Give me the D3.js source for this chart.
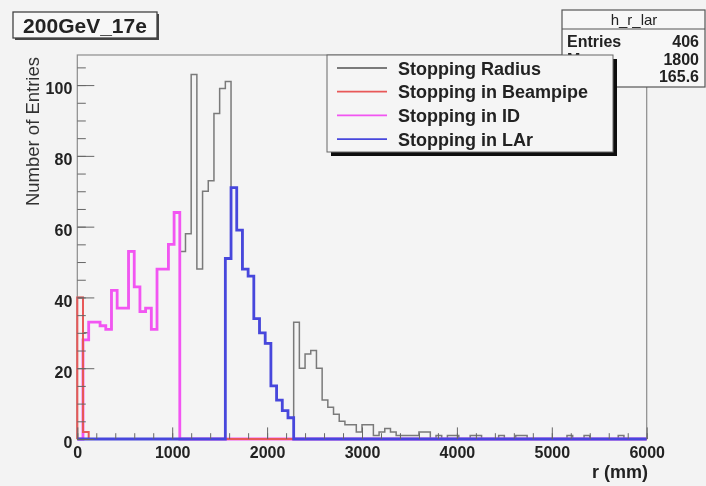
<!DOCTYPE html>
<html>
<head>
<meta charset="utf-8">
<script src="https://cdn.jsdelivr.net/npm/d3@7"></script>
<style>
  body { margin: 0; background: #f3f3f3; }
  svg { display: block; font-family: "Liberation Sans", Arial, sans-serif; }
</style>
</head>
<body>
<script>
// histogram binning (mm)
var xMin = 0, xMax = 6000, binWidth = 60;

// Stopping Radius - all bins
var radiusCounts = [
  40, 30, 33, 33, 32, 31, 42, 37, 37, 53,
  43, 36, 37, 31, 48, 48, 55, 64, 53, 58,
  103, 48, 70, 73, 92, 99, 101, 71, 59, 48,
  46, 34, 30, 27, 15, 11, 8, 6, 33, 20,
  24, 25, 20, 11, 9, 7, 5, 4, 4, 2,
  4, 4, 1, 2, 3, 2, 1, 1, 1, 1,
  2, 2, 0, 1, 0, 1, 1, 0, 0, 1,
  1, 0, 0, 0, 1, 0, 0, 1, 1, 0,
  0, 0, 0, 0, 0, 0, 1, 0, 0, 1,
  0, 0, 0, 0, 0, 1, 0, 0, 0, 0
];
// Stopping in Beampipe (starting at bin 0)
var beampipeStart = 0;
var beampipeCounts = [40, 2];
// Stopping in ID (starting at bin 0)
var idStart = 0;
var idCounts = [0, 28, 33, 33, 32, 31, 42, 37, 37, 53, 43, 36, 37, 31, 48, 48, 55, 64];
// Stopping in LAr (starting at bin 26)
var larStart = 26;
var larCounts = [51, 71, 59, 48, 46, 34, 30, 27, 15, 11, 8, 6];

var legendLabels = ["Stopping Radius", "Stopping in Beampipe", "Stopping in ID", "Stopping in LAr"];
var xTicks = [0, 1000, 2000, 3000, 4000, 5000, 6000];
var yTicks = [0, 20, 40, 60, 80, 100];
var stats = [["Entries", "406"], ["Mean", "1800"], ["RMS", "165.6"]];

var nBins = (xMax - xMin) / binWidth;
function fullBins(start, vals) {
  var arr = [];
  for (var i = 0; i < nBins; i++) arr.push(0);
  vals.forEach(function(v, i) { arr[start + i] = v; });
  return arr;
}

var svgWidth = 706, svgHeight = 486;
var svg = d3.select("body").append("svg")
  .attr("width", svgWidth)
  .attr("height", svgHeight);

// the reference is a soft, upscaled picture
svg.append("defs").append("filter").attr("id", "soft")
  .append("feGaussianBlur").attr("stdDeviation", 0.45);
var root = svg.append("g").attr("filter", "url(#soft)");

var x = d3.scaleLinear().domain([xMin, xMax]).range([77.3, 646.7]);
var y = d3.scaleLinear().domain([0, 108.5]).range([439, 55]);

// frame
root.append("rect")
  .attr("x", x(xMin)).attr("y", y(108.5))
  .attr("width", x(xMax) - x(xMin)).attr("height", y(0) - y(108.5))
  .attr("fill", "#f4f4f4")
  .attr("stroke", "#8c8c8c")
  .attr("stroke-width", 1.2);

// step outline like ROOT's HIST option
function stepPoints(counts) {
  var pts = [[xMin, 0]];
  counts.forEach(function(v, i) { pts.push([xMin + i * binWidth, v]); });
  pts.push([xMax, 0]);
  return pts;
}
var line = d3.line()
  .x(function(d) { return x(d[0]); })
  .y(function(d) { return y(d[1]); })
  .curve(d3.curveStepAfter);

var series = [
  { counts: radiusCounts, color: "#7a7a7a", width: 1.5 },
  { counts: fullBins(idStart, idCounts), color: "#f255f2", width: 2.8 },
  { counts: fullBins(beampipeStart, beampipeCounts), color: "#e85858", width: 2 },
  { counts: fullBins(larStart, larCounts), color: "#4646dc", width: 2.8 }
];
series.forEach(function(s) {
  root.append("path")
    .attr("d", line(stepPoints(s.counts)))
    .attr("fill", "none")
    .attr("stroke", s.color)
    .attr("stroke-width", s.width)
    .attr("stroke-linejoin", "miter");
});

// axes (ticks inward)
var xMinor = d3.range(0, 6001, 200);
var yMinor = d3.range(0, 108, 5);

root.append("g")
  .attr("transform", "translate(0," + y(0) + ")")
  .call(d3.axisBottom(x).tickValues(xMinor).tickSize(-5.8).tickFormat(""))
  .call(function(g) { g.select(".domain").remove(); });
var xAxis = root.append("g")
  .attr("transform", "translate(0," + y(0) + ")")
  .call(d3.axisBottom(x).tickValues(xTicks).tickSize(-11.6).tickPadding(8).tickSizeOuter(0).tickFormat(d3.format("d")));

root.append("g")
  .attr("transform", "translate(" + x(0) + ",0)")
  .call(d3.axisLeft(y).tickValues(yMinor).tickSize(-8.5).tickFormat(""))
  .call(function(g) { g.select(".domain").remove(); });
var yAxis = root.append("g")
  .attr("transform", "translate(" + x(0) + ",0)")
  .call(d3.axisLeft(y).tickValues(yTicks).tickSize(-17).tickPadding(5).tickSizeOuter(0));

root.selectAll(".tick line").attr("stroke", "#666");
xAxis.selectAll("text").style("font-size", "16px").style("font-weight", "bold").attr("fill", "#222");
yAxis.selectAll("text").style("font-size", "16px").style("font-weight", "bold").attr("fill", "#222").attr("dy", "0.55em");
xAxis.select(".domain").remove();
yAxis.select(".domain").remove();

// axis titles
root.append("text")
  .attr("transform", "rotate(-90)")
  .attr("x", -57).attr("y", 39)
  .attr("text-anchor", "end")
  .style("font-size", "18.5px")
  .attr("fill", "#333")
  .text("Number of Entries");

root.append("text")
  .attr("x", 648).attr("y", 478)
  .attr("text-anchor", "end")
  .style("font-size", "18px")
  .style("font-weight", "bold")
  .attr("fill", "#222")
  .text("r (mm)");

// title box
root.append("rect").attr("x", 15).attr("y", 14).attr("width", 144).attr("height", 26).attr("fill", "#444");
root.append("rect").attr("x", 13).attr("y", 12).attr("width", 144).attr("height", 26)
  .attr("fill", "#f7f7f7").attr("stroke", "#444").attr("stroke-width", 1.3);
root.append("text")
  .attr("x", 85).attr("y", 33)
  .attr("text-anchor", "middle")
  .style("font-size", "21px").style("font-weight", "bold")
  .attr("fill", "#222")
  .text("200GeV_17e");

// stats box
var sb = root.append("g");
sb.append("rect").attr("x", 562).attr("y", 10).attr("width", 143).attr("height", 77)
  .attr("fill", "#f7f7f7").attr("stroke", "#555").attr("stroke-width", 1.2);
sb.append("line").attr("x1", 562).attr("x2", 705).attr("y1", 29).attr("y2", 29)
  .attr("stroke", "#555").attr("stroke-width", 1.2);
sb.append("text").attr("x", 634).attr("y", 25).attr("text-anchor", "middle")
  .style("font-size", "15px").attr("fill", "#222").text("h_r_lar");
stats.forEach(function(s, i) {
  sb.append("text").attr("x", 567).attr("y", 47 + i * 17.5)
    .style("font-size", "16px").style("font-weight", "bold").attr("fill", "#222").text(s[0]);
  sb.append("text").attr("x", 699).attr("y", 47 + i * 17.5).attr("text-anchor", "end")
    .style("font-size", "16px").style("font-weight", "bold").attr("fill", "#222").text(s[1]);
});

// legend
var lg = root.append("g");
lg.append("rect").attr("x", 331).attr("y", 59).attr("width", 286).attr("height", 97).attr("fill", "#111");
lg.append("rect").attr("x", 327).attr("y", 55).attr("width", 286).attr("height", 97)
  .attr("fill", "#f5f5f5").attr("stroke", "#666").attr("stroke-width", 1);
legendLabels.forEach(function(lab, i) {
  var cy = 68 + i * 23.7;
  lg.append("line").attr("x1", 337).attr("x2", 387).attr("y1", cy).attr("y2", cy)
    .attr("stroke", series[[0, 2, 1, 3][i]].color).attr("stroke-width", 1.8);
  lg.append("text").attr("x", 398).attr("y", cy + 6.5)
    .style("font-size", "18px").style("font-weight", "bold").attr("fill", "#222").text(lab);
});
</script>
</body>
</html>
